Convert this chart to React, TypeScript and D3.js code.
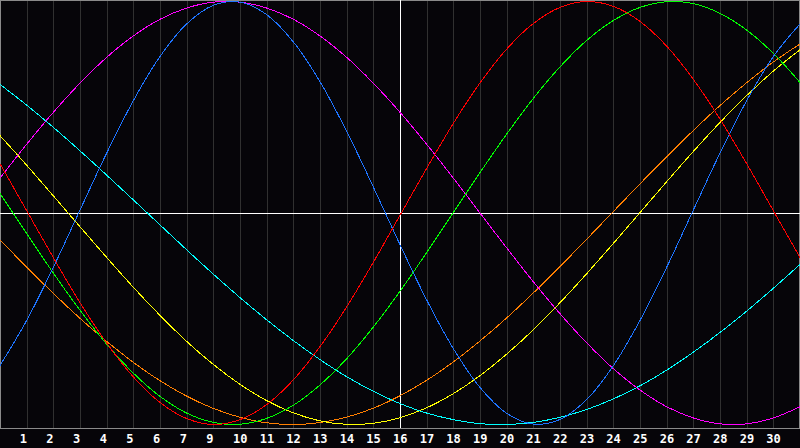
import React, { useEffect, useRef } from "react";
import * as d3 from "d3";

// day positions sampled along the chart (0 = left edge, 30 = right edge)
const days = d3.range(0, 31);

// values, -1 (bottom) .. 1 (top)
const red = [
  0.233, 0.011, -0.211, -0.424, -0.615, -0.775, -0.896, -0.972, -1.0, -0.977,
  -0.906, -0.789, -0.632, -0.444, -0.233, -0.011, 0.211, 0.424, 0.615, 0.775,
  0.896, 0.972, 1.0, 0.977, 0.906, 0.789, 0.632, 0.444, 0.233, 0.011, -0.211,
];
const green = [
  0.093, -0.097, -0.284, -0.46, -0.62, -0.757, -0.867, -0.946, -0.99, -0.999,
  -0.971, -0.909, -0.813, -0.689, -0.539, -0.37, -0.187, 0.002, 0.191, 0.373,
  0.542, 0.691, 0.816, 0.91, 0.972, 0.999, 0.99, 0.944, 0.865, 0.755, 0.617,
];
const blue = [
  -0.721, -0.508, -0.257, 0.014, 0.283, 0.531, 0.74, 0.894, 0.982, 0.997,
  0.938, 0.809, 0.621, 0.386, 0.123, -0.15, -0.411, -0.641, -0.825, -0.947,
  -0.998, -0.976, -0.882, -0.722, -0.508, -0.257, 0.014, 0.283, 0.531, 0.74,
  0.894,
];
const magenta = [
  0.165, 0.325, 0.476, 0.614, 0.736, 0.837, 0.916, 0.969, 0.997, 0.997, 0.969,
  0.916, 0.837, 0.736, 0.614, 0.476, 0.325, 0.165, 0.0, -0.165, -0.325, -0.476,
  -0.614, -0.736, -0.837, -0.916, -0.969, -0.997, -0.997, -0.969, -0.916,
];
const cyan = [
  0.608, 0.51, 0.405, 0.294, 0.179, 0.062, -0.056, -0.174, -0.289, -0.4,
  -0.505, -0.603, -0.693, -0.774, -0.843, -0.901, -0.946, -0.977, -0.996, -1.0,
  -0.99, -0.966, -0.929, -0.879, -0.817, -0.743, -0.658, -0.565, -0.464, -0.356,
  -0.243,
];
const yellow = [
  0.366, 0.226, 0.081, -0.065, -0.21, -0.351, -0.484, -0.607, -0.716, -0.81,
  -0.887, -0.945, -0.983, -0.999, -0.994, -0.968, -0.921, -0.854, -0.769,
  -0.667, -0.552, -0.424, -0.287, -0.144, 0.002, 0.148, 0.291, 0.428, 0.555,
  0.671, 0.772,
];
const orange = [
  -0.127, -0.256, -0.38, -0.498, -0.607, -0.706, -0.793, -0.866, -0.924,
  -0.966, -0.992, -1.0, -0.991, -0.965, -0.923, -0.864, -0.791, -0.704, -0.605,
  -0.496, -0.378, -0.253, -0.124, 0.007, 0.138, 0.266, 0.39, 0.508, 0.616,
  0.714, 0.799,
];

// day labels under each grid line (8 is missing in the original)
const tickLabels = [
  "1", "2", "3", "4", "5", "6", "7", "9", "10", "11", "12", "13", "14", "15",
  "16", "17", "18", "19", "20", "21", "22", "23", "24", "25", "26", "27", "28",
  "29", "30",
];
const todayIndex = 15;

const series = [
  { name: "orange", values: orange, color: "#ff7f00" },
  { name: "yellow", values: yellow, color: "#ffff00" },
  { name: "cyan", values: cyan, color: "#00ffff" },
  { name: "magenta", values: magenta, color: "#ff00ff" },
  { name: "green", values: green, color: "#00ff00" },
  { name: "blue", values: blue, color: "#1e74ff" },
  { name: "red", values: red, color: "#ff0000" },
];

const App: React.FC = () => {
  const svgRef = useRef<SVGSVGElement | null>(null);

  useEffect(() => {
    document.body.style.margin = "0";
    if (!svgRef.current) return;

    const svg = d3.select(svgRef.current);
    svg.selectAll("*").remove();

    const width = 800;
    const height = 448;
    const plotHeight = 428;

    svg.attr("width", width).attr("height", height).style("display", "block");

    svg
      .append("rect")
      .attr("width", width)
      .attr("height", height)
      .attr("fill", "#060509");

    const x = d3.scaleLinear().domain([0, 30]).range([0, width]);
    const y = d3.scaleLinear().domain([-1, 1]).range([424.5, 1.5]);

    // vertical grid
    svg
      .append("g")
      .selectAll("line")
      .data(d3.range(1, 30))
      .enter()
      .append("line")
      .attr("x1", (d) => Math.round(x(d)) + 0.5)
      .attr("x2", (d) => Math.round(x(d)) + 0.5)
      .attr("y1", 0)
      .attr("y2", plotHeight)
      .attr("stroke", "#303030")
      .attr("shape-rendering", "crispEdges");

    // border
    svg
      .append("rect")
      .attr("x", 0.5)
      .attr("y", 0.5)
      .attr("width", width - 1)
      .attr("height", plotHeight)
      .attr("fill", "none")
      .attr("stroke", "#8a8a8a")
      .attr("shape-rendering", "crispEdges");

    // today + zero line
    svg
      .append("line")
      .attr("x1", Math.round(x(todayIndex)) + 0.5)
      .attr("x2", Math.round(x(todayIndex)) + 0.5)
      .attr("y1", 0)
      .attr("y2", plotHeight)
      .attr("stroke", "#ffffff")
      .attr("shape-rendering", "crispEdges");
    svg
      .append("line")
      .attr("x1", 0)
      .attr("x2", width)
      .attr("y1", Math.round(y(0)) + 0.5)
      .attr("y2", Math.round(y(0)) + 0.5)
      .attr("stroke", "#ffffff")
      .attr("shape-rendering", "crispEdges");

    const line = d3
      .line<number>()
      .x((_, i) => x(days[i]))
      .y((d) => y(d))
      .curve(d3.curveCatmullRom);

    // pixel-style (aliased) curves like the original
    svg
      .append("g")
      .selectAll("path")
      .data(series)
      .enter()
      .append("path")
      .attr("d", (d) => line(d.values))
      .attr("fill", "none")
      .attr("stroke", (d) => d.color)
      .attr("stroke-width", 1)
      .attr("shape-rendering", "crispEdges");

    // day labels
    svg
      .append("g")
      .selectAll("text")
      .data(tickLabels)
      .enter()
      .append("text")
      .attr("x", (_, i) => x(i + 1) - 7)
      .attr("y", 443)
      .attr("fill", "#ffffff")
      .attr("font-family", "'DejaVu Sans Mono', monospace")
      .attr("font-weight", "bold")
      .attr("font-size", 12)
      .text((d) => d);
  }, []);

  return <svg ref={svgRef}></svg>;
};

export default App;
